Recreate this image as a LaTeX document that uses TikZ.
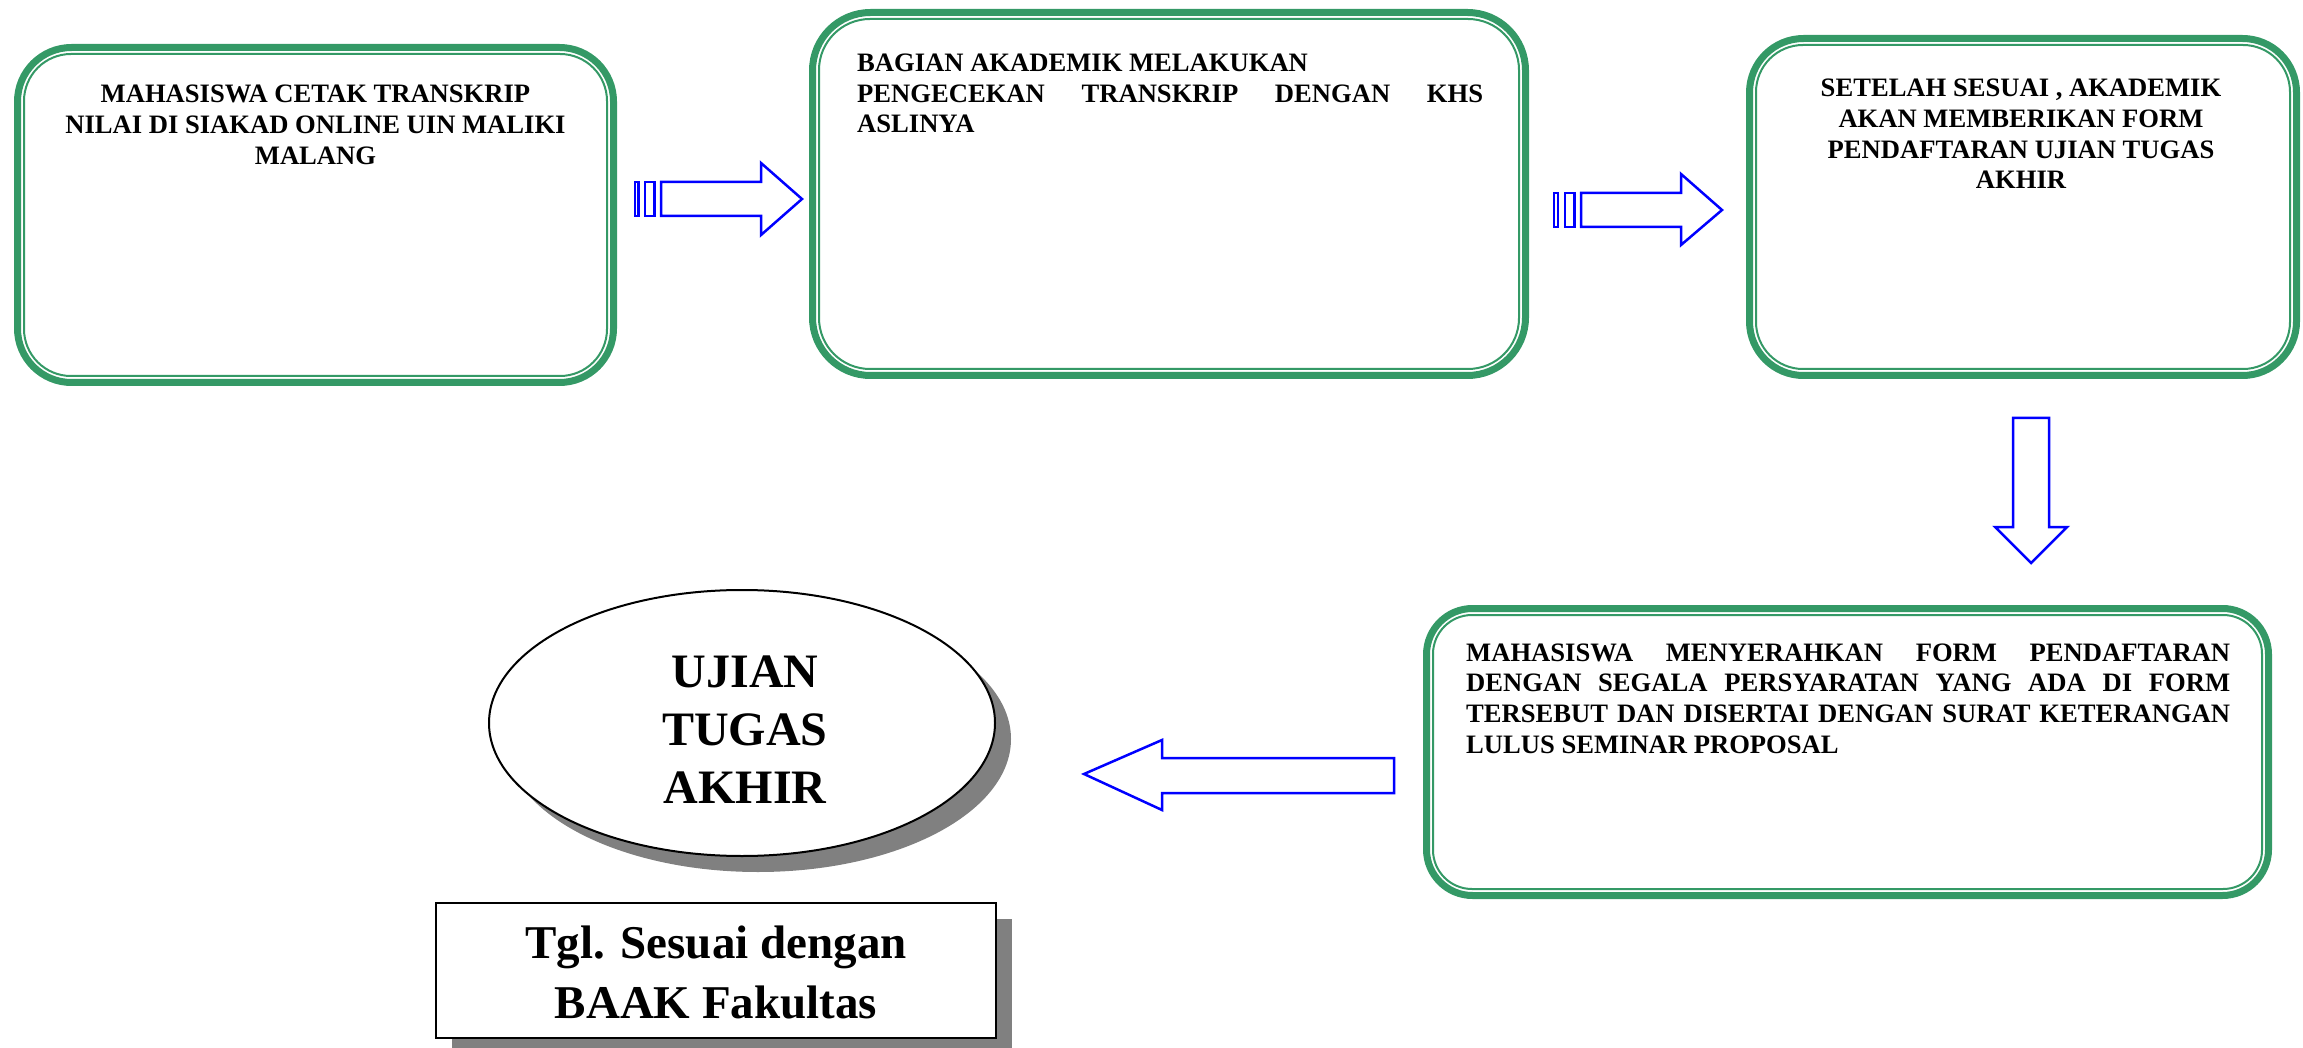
\documentclass[tikz,border=0pt]{standalone}
\usepackage{fontspec}
\setmainfont{Liberation Serif}
\usetikzlibrary{shapes.geometric,shadows}
\definecolor{gboxgreen}{RGB}{52,153,102}
\definecolor{arrowblue}{RGB}{0,0,255}
\begin{document}
\begin{tikzpicture}[x=1pt,y=-1pt,
  gbox/.style={draw=gboxgreen, line width=7pt, inner sep=0pt, outer sep=0pt, fill=white},
  ginner/.style={draw=gboxgreen, line width=2pt, inner sep=0pt, outer sep=0pt},
  btext/.style={font=\bfseries\fontsize{26.6}{30.7}\selectfont, inner sep=0pt, anchor=base},
  blockarrow/.style={draw=arrowblue, line width=2.5pt, fill=white, line join=miter},
  bigtext/.style={font=\bfseries\fontsize{48}{58}\selectfont, inner sep=0pt, anchor=base, align=center},
  graysh/.style={drop shadow={shadow xshift=16pt, shadow yshift=-16pt, opacity=1, fill=black!50}}
]
\useasboundingbox (0,0) rectangle (2303,1048);

% --- Box 1
\node[gbox, minimum width=596pt, minimum height=335pt, rounded corners=54pt] (b1) at (315.5,215) {};
\node[ginner, minimum width=583pt, minimum height=322pt, rounded corners=47pt] (b1i) at (b1.center) {};
% base anchor = baseline of the last line
\node[btext, align=center] (t1) at (315.5,164.4) {MAHASISWA CETAK TRANSKRIP\\NILAI DI SIAKAD ONLINE UIN MALIKI\\MALANG};

% --- Box 2
\node[gbox, minimum width=713pt, minimum height=363pt, rounded corners=58pt] (b2) at (1169,194) {};
\node[ginner, minimum width=700pt, minimum height=350pt, rounded corners=51pt] (b2i) at (b2.center) {};
\node[btext, align=left, anchor=base west] (t2) at (857,133) {BAGIAN AKADEMIK MELAKUKAN\\
  \hbox to 626pt{PENGECEKAN\hfill TRANSKRIP\hfill DENGAN\hfill KHS}\\ASLINYA};

% --- Box 3
\node[gbox, minimum width=547pt, minimum height=337pt, rounded corners=54pt] (b3) at (2023,207) {};
\node[ginner, minimum width=534pt, minimum height=324pt, rounded corners=47pt] (b3i) at (b3.center) {};
\node[btext, align=center] (t3) at (2021,189) {SETELAH SESUAI , AKADEMIK\\AKAN MEMBERIKAN FORM\\PENDAFTARAN UJIAN TUGAS\\AKHIR};

% --- Box 4
\node[gbox, minimum width=842pt, minimum height=287pt, rounded corners=46pt] (b4) at (1847.5,752) {};
\node[ginner, minimum width=829pt, minimum height=274pt, rounded corners=39pt] (b4i) at (b4.center) {};
\node[btext, align=left, anchor=base west] (t4) at (1466,753.1) {%
  \hbox to 764pt{MAHASISWA\hfill MENYERAHKAN\hfill FORM\hfill PENDAFTARAN}\\
  \hbox to 764pt{DENGAN\hfill SEGALA\hfill PERSYARATAN\hfill YANG\hfill ADA\hfill DI\hfill FORM}\\
  \hbox to 764pt{TERSEBUT\hfill DAN\hfill DISERTAI\hfill DENGAN\hfill SURAT\hfill KETERANGAN}\\
  LULUS SEMINAR PROPOSAL};

% --- Arrow 1 (box1 -> box2)
\draw[blockarrow] (635,182) rectangle (638.5,216);
\draw[blockarrow] (645,182) rectangle (654.5,216);
\draw[blockarrow] (661,182) -- (761,182) -- (761,163) -- (802,199) -- (761,235) -- (761,216) -- (661,216) -- cycle;

% --- Arrow 2 (box2 -> box3)
\draw[blockarrow] (1554,193) rectangle (1558,227);
\draw[blockarrow] (1565,193) rectangle (1574.5,227);
\draw[blockarrow] (1581,193) -- (1681,193) -- (1681,174) -- (1722,210) -- (1681,245) -- (1681,227) -- (1581,227) -- cycle;

% --- Arrow 3 (down, box3 -> box4)
\draw[blockarrow] (2013,418) -- (2049,418) -- (2049,527) -- (2067,527) -- (2031,563) -- (1995,527) -- (2013,527) -- cycle;

% --- Arrow 4 (left, box4 -> ellipse)
\draw[blockarrow] (1084,774) -- (1162,740) -- (1162,758) -- (1394,758) -- (1394,793) -- (1162,793) -- (1162,810) -- cycle;

% --- Ellipse
\node[ellipse, draw=black, line width=2pt, fill=white, inner sep=0pt, minimum width=506pt, minimum height=266pt, graysh] (ua) at (742,723) {};
\node[bigtext] (uat) at (745,803) {UJIAN\\TUGAS\\AKHIR};

% --- Date box
\node[rectangle, draw=black, line width=2pt, fill=white, inner sep=0pt, minimum width=560pt, minimum height=135pt, graysh] (tgl) at (716,970.5) {};
\node[font=\bfseries\fontsize{47}{60}\selectfont, inner sep=0pt, anchor=base, align=center] (tglt) at (716,1018) {Tgl. Sesuai dengan\\BAAK Fakultas};
\end{tikzpicture}
\end{document}
